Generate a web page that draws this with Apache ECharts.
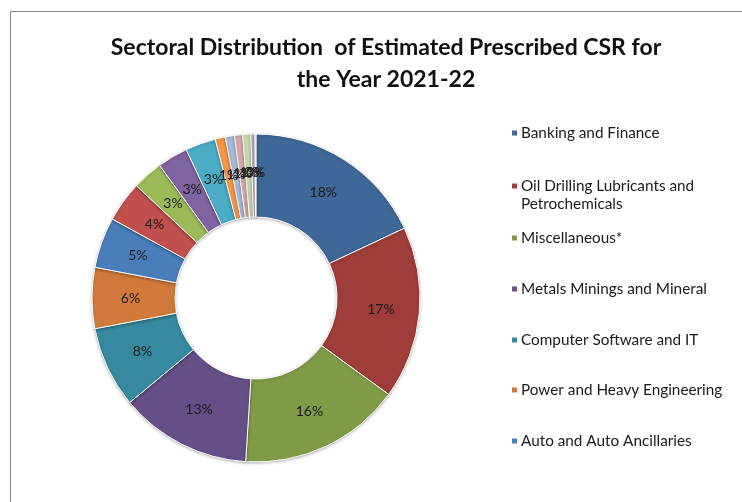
<!DOCTYPE html>
<html>
<head>
<meta charset="utf-8">
<script src="https://cdn.jsdelivr.net/npm/echarts@6/dist/echarts.min.js"></script>
<style>
html,body{margin:0;padding:0;background:#fff;}
#chart{width:742px;height:502px;}
</style>
</head>
<body>
<div id="chart"></div>
<script>
// ---- data ----
const categories = [
  'Banking and Finance',
  'Oil Drilling Lubricants and Petrochemicals',
  'Miscellaneous*',
  'Metals Minings and Mineral',
  'Computer Software and IT',
  'Power and Heavy Engineering',
  'Auto and Auto Ancillaries',
  'Sector 8', 'Sector 9', 'Sector 10', 'Sector 11',
  'Sector 12', 'Sector 13', 'Sector 14', 'Sector 15', 'Sector 16', 'Sector 17'
];
const shares = [18, 17, 16, 13, 8, 6, 5, 4, 3, 3, 3, 1.0, 0.9, 0.8, 0.8, 0.4, 0.1];
const legendNames = categories.slice(0, 7);
const titleText = 'Sectoral Distribution  of Estimated Prescribed CSR for\nthe Year 2021-22';

// ---- styling ----
const palette = ['#3F6797', '#9E3D3A', '#7F9B48', '#664F87', '#36899F', '#D0793A', '#4A7EBB',
  '#C0504D', '#9BBB59', '#8064A2', '#4BACC6', '#F79646',
  '#A9BAD9', '#D9A9A8', '#C9DAA9', '#B9ACCE', '#A7D5E3'];
const FONT = 'Lato, "Open Sans", sans-serif';
const legendCenters = [133, 186, 238, 289, 340, 390, 441];

const chart = echarts.init(document.getElementById('chart'));

const legends = legendNames.map((n, i) => ({
  data: [n],
  left: 510,
  top: legendCenters[i] - 9,
  padding: 0,
  itemWidth: 7,
  itemHeight: 7,
  icon: 'rect',
  selectedMode: false,
  formatter: nm => (nm.indexOf('Oil Drilling') === 0 ? 'Oil Drilling Lubricants and' : nm),
  textStyle: { fontFamily: FONT, fontSize: 15.3, color: '#1a1a1a', lineHeight: 18, padding: [0, 0, 0, -2] }
}));

chart.setOption({
  animation: false,
  backgroundColor: '#fff',
  color: palette,
  title: {
    text: titleText,
    left: 386,
    textAlign: 'center',
    top: 32,
    padding: 0,
    textStyle: { fontFamily: FONT, fontSize: 23, fontWeight: 'bold', color: '#111', lineHeight: 32 }
  },
  legend: legends,
  graphic: [
    { type: 'rect', silent: true, shape: { x: 10.5, y: 11.5, width: 780, height: 540 },
      style: { fill: 'none', stroke: '#8a8a8a', lineWidth: 1 } },
    { type: 'text', left: 521, top: 197, silent: true,
      style: { text: 'Petrochemicals', font: '15.3px ' + FONT, fill: '#1a1a1a' } }
  ],
  series: [{
    type: 'pie',
    center: [256, 298],
    radius: [81, 164],
    startAngle: 90,
    clockwise: true,
    avoidLabelOverlap: false,
    labelLayout: { hideOverlap: false },
    data: categories.map((c, i) => ({ name: c, value: shares[i] })),
    itemStyle: { borderColor: '#fff', borderWidth: 1,
      shadowBlur: 3, shadowColor: 'rgba(0,0,0,0.25)', shadowOffsetY: 1 },
    label: {
      show: true,
      position: 'inside',
      fontFamily: FONT,
      fontSize: 14,
      color: '#1a1a1a',
      formatter: p => Math.round(p.percent) + '%'
    },
    labelLine: { show: false },
    emphasis: { disabled: true }
  }]
});
</script>
</body>
</html>
